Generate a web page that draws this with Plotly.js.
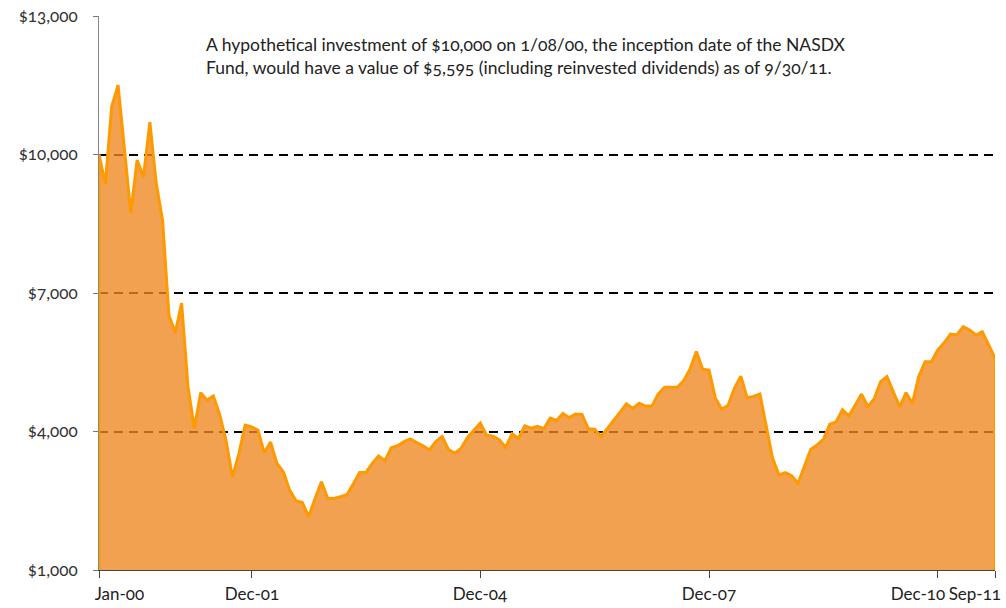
<!DOCTYPE html>
<html>
<head>
<meta charset="utf-8">
<script src="https://cdn.plot.ly/plotly-3.0.1.min.js"></script>
<style>
  html, body { margin: 0; padding: 0; background: #fff; }
  #chart { width: 1006px; height: 608px; }
  .main-svg text { font-variant-numeric: oldstyle-nums; font-feature-settings: "onum" 1; }
</style>
</head>
<body>
<div id="chart"></div>
<script>
// Growth of a hypothetical $10,000 investment, 1/08/00 to 9/30/11 (monthly)
const values = [
  10000, 9360, 11040, 11500, 10120, 8730, 9880, 9510, 10700, 9380,
  8580, 6520, 6140, 6780, 4970, 4070, 4840, 4680, 4770, 4360,
  3800, 3010, 3510, 4140, 4100, 4030, 3540, 3770, 3310, 3130,
  2730, 2500, 2460, 2160, 2550, 2910, 2550, 2550, 2590, 2630,
  2860, 3110, 3110, 3310, 3470, 3370, 3650, 3690, 3780, 3840,
  3760, 3690, 3600, 3780, 3890, 3610, 3530, 3640, 3870, 4030,
  4180, 3920, 3900, 3820, 3660, 3950, 3850, 4120, 4070, 4110,
  4060, 4290, 4240, 4390, 4300, 4380, 4370, 4060, 4050, 3890,
  4060, 4230, 4420, 4600, 4500, 4610, 4550, 4550, 4810, 4960,
  4960, 4960, 5100, 5350, 5730, 5350, 5330, 4720, 4480, 4570,
  4940, 5200, 4730, 4760, 4810, 4140, 3420, 3060, 3110, 3040,
  2880, 3240, 3610, 3710, 3830, 4160, 4210, 4470, 4340, 4570,
  4810, 4540, 4710, 5080, 5190, 4860, 4540, 4840, 4610, 5190,
  5510, 5510, 5770, 5920, 6110, 6090, 6270, 6200, 6090, 6160,
  5870, 5595
];

// Categories: inception date, then month-ends Jan-2000 .. Sep-2011
const dates = ['2000-01-08'];
for (let y = 2000; y <= 2011; y++) {
  for (let m = 1; m <= 12; m++) {
    if (y === 2011 && m > 9) break;
    const last = new Date(Date.UTC(y, m, 0)).getUTCDate();
    dates.push(y + '-' + String(m).padStart(2, '0') + '-' + String(last).padStart(2, '0'));
  }
}

const tickDates = ['2000-01-08', '2001-12-31', '2004-12-31', '2007-12-31', '2010-12-31', '2011-09-30'];
const tickLabels = ['Jan-00', 'Dec-01', 'Dec-04', 'Dec-07', 'Dec-10', 'Sep-11'];
const labelShift = [-7, 0, 0, 0, -20, 9];
const labelAnchor = ['left', 'center', 'center', 'center', 'center', 'right'];

const yTicks = [1000, 4000, 7000, 10000, 13000];
const yLabels = ['$1,000', '$4,000', '$7,000', '$10,000', '$13,000'];

const noteText = 'A hypothetical investment of $10,000 on 1/08/00, the inception date of the NASDX<br>' +
                 'Fund, would have a value of $5,595 (including reinvested dividends) as of 9/30/11.';

const FONT = 'Lato, "Open Sans", "DejaVu Sans", sans-serif';

const trace = {
  type: 'scatter',
  mode: 'lines',
  x: dates,
  y: values,
  fill: 'tozeroy',
  fillcolor: 'rgba(237,134,30,0.78)',
  line: { color: '#FF9900', width: 3 },
  hoverinfo: 'x+y'
};

const annotations = tickDates.map((d, i) => ({
  x: d, xref: 'x', y: 0, yref: 'paper',
  yanchor: 'top', xanchor: labelAnchor[i], xshift: labelShift[i], yshift: -11,
  text: tickLabels[i], showarrow: false,
  font: { family: FONT, size: 17, color: '#222' }
}));
annotations.push({
  x: 0.117, xref: 'paper', y: 0.972, yref: 'paper',
  xanchor: 'left', yanchor: 'top', align: 'left',
  text: noteText, showarrow: false,
  font: { family: FONT, size: 17.5, color: '#222' }
});

const shapes = [
  { type: 'line', xref: 'x', yref: 'y', x0: dates[0], x1: dates[0], y0: yTicks[0], y1: values[0],
    line: { color: '#FF9900', width: 3 } },
  { type: 'line', xref: 'x', yref: 'y', x0: dates[dates.length - 1], x1: dates[dates.length - 1],
    y0: yTicks[0], y1: values[values.length - 1], line: { color: '#FF9900', width: 3 } }
];

const layout = {
  width: 1006, height: 608,
  margin: { l: 99, r: 11, t: 16, b: 38 },
  paper_bgcolor: '#fff', plot_bgcolor: '#fff',
  showlegend: false,
  font: { family: FONT, size: 17, color: '#333' },
  xaxis: {
    type: 'category',
    range: [0, dates.length - 1],
    tickmode: 'array', tickvals: tickDates, ticktext: tickLabels,
    showticklabels: false,
    ticks: 'outside', ticklen: 7, tickcolor: '#444', tickwidth: 1,
    showline: true, linecolor: '#444', linewidth: 1,
    showgrid: false, zeroline: false, fixedrange: true
  },
  yaxis: {
    range: [1000, 13000],
    tickmode: 'array', tickvals: yTicks, ticktext: yLabels,
    ticks: 'outside', ticklen: 5, tickcolor: '#777', tickwidth: 1,
    ticklabelstandoff: 12,
    tickfont: { family: FONT, size: 17, color: '#333' },
    showline: true, linecolor: '#888', linewidth: 1,
    showgrid: true, gridcolor: '#000', gridwidth: 2, griddash: '9px,6px',
    zeroline: false, fixedrange: true
  },
  annotations: annotations,
  shapes: shapes
};

Plotly.newPlot('chart', [trace], layout, { displayModeBar: false, staticPlot: true });
</script>
</body>
</html>
